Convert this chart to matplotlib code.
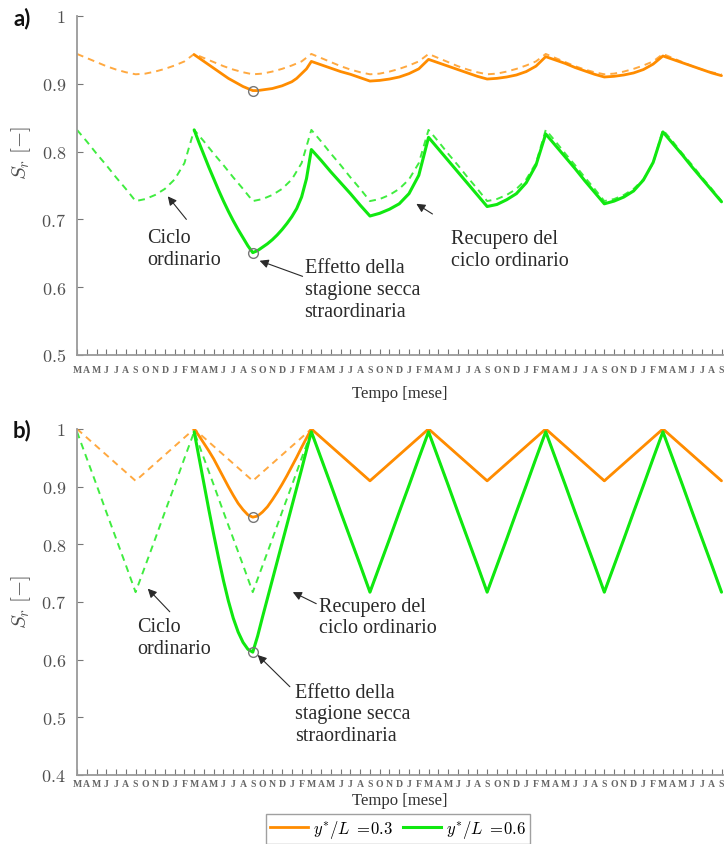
import matplotlib
matplotlib.use("Agg")
import matplotlib.pyplot as plt
from matplotlib.lines import Line2D

plt.rcParams["mathtext.fontset"] = "cm"
plt.rcParams["font.family"] = ["Liberation Serif", "DejaVu Serif"]

# ---- time axis: months from March of year 1 to September of year 6 ----
month_labels = (["M", "A", "M", "J", "J", "A", "S", "O", "N", "D", "J", "F"] * 5
                + ["M", "A", "M", "J", "J", "A", "S"])
months = list(range(len(month_labels)))          # 0 .. 66
# extraordinary year sampled every half month, then monthly
months_dry = [12 + 0.5 * i for i in range(25)] + list(range(25, 67))

# ---- panel a): ordinary cycle (dashed) ----
a_ord_03 = [0.944, 0.938, 0.932, 0.926, 0.921, 0.917, 0.914, 0.915, 0.918, 0.922, 0.927, 0.933,
            0.944, 0.938, 0.932, 0.926, 0.921, 0.917, 0.914, 0.915, 0.918, 0.922, 0.927, 0.933,
            0.944, 0.938, 0.932, 0.926, 0.921, 0.917, 0.914, 0.915, 0.918, 0.922, 0.927, 0.933,
            0.944, 0.938, 0.932, 0.926, 0.921, 0.917, 0.914, 0.915, 0.918, 0.922, 0.927, 0.933,
            0.944, 0.938, 0.932, 0.926, 0.921, 0.917, 0.914, 0.915, 0.918, 0.922, 0.927, 0.933,
            0.944, 0.938, 0.932, 0.926, 0.921, 0.917, 0.914]
a_ord_06 = [0.832, 0.815, 0.797, 0.780, 0.762, 0.745, 0.727, 0.730, 0.736, 0.745, 0.759, 0.783,
            0.832, 0.815, 0.797, 0.780, 0.762, 0.745, 0.727, 0.730, 0.736, 0.745, 0.759, 0.783,
            0.832, 0.815, 0.797, 0.780, 0.762, 0.745, 0.727, 0.730, 0.736, 0.745, 0.759, 0.783,
            0.832, 0.815, 0.797, 0.780, 0.762, 0.745, 0.727, 0.730, 0.736, 0.745, 0.759, 0.783,
            0.832, 0.815, 0.797, 0.780, 0.762, 0.745, 0.727, 0.730, 0.736, 0.745, 0.759, 0.783,
            0.832, 0.815, 0.797, 0.780, 0.762, 0.745, 0.727]

# ---- panel a): extraordinary dry season and recovery (solid) ----
a_dry_03 = [0.943, 0.938, 0.933, 0.928, 0.923, 0.918, 0.913, 0.908, 0.904, 0.900, 0.896, 0.893,
            0.890, 0.890, 0.891, 0.892, 0.893, 0.895, 0.897, 0.900, 0.903, 0.908, 0.915, 0.922,
            0.933,
            0.928, 0.923, 0.918, 0.914, 0.909, 0.904,
            0.905, 0.907, 0.910, 0.915, 0.922, 0.936,
            0.931, 0.926, 0.921, 0.916, 0.911, 0.907,
            0.908, 0.910, 0.913, 0.918, 0.926, 0.940,
            0.935, 0.930, 0.924, 0.919, 0.914, 0.910,
            0.911, 0.913, 0.916, 0.921, 0.929, 0.941,
            0.936, 0.931, 0.926, 0.921, 0.916, 0.912]
a_dry_06 = [0.832, 0.813, 0.795, 0.777, 0.760, 0.743, 0.727, 0.712, 0.698, 0.685, 0.673, 0.661,
            0.651, 0.654, 0.659, 0.664, 0.670, 0.677, 0.685, 0.694, 0.704, 0.716, 0.733, 0.760,
            0.803,
            0.787, 0.770, 0.754, 0.738, 0.721, 0.705,
            0.709, 0.715, 0.723, 0.738, 0.765, 0.821,
            0.804, 0.787, 0.770, 0.753, 0.736, 0.719,
            0.722, 0.729, 0.738, 0.754, 0.780, 0.826,
            0.809, 0.792, 0.775, 0.757, 0.740, 0.723,
            0.727, 0.733, 0.742, 0.758, 0.784, 0.829,
            0.812, 0.795, 0.777, 0.760, 0.743, 0.726]

# ---- panel b): ordinary cycle (dashed) ----
b_ord_03 = [1.000, 0.985, 0.970, 0.955, 0.940, 0.925, 0.910, 0.925, 0.940, 0.955, 0.970, 0.985,
            1.000, 0.985, 0.970, 0.955, 0.940, 0.925, 0.910, 0.925, 0.940, 0.955, 0.970, 0.985,
            1.000, 0.985, 0.970, 0.955, 0.940, 0.925, 0.910, 0.925, 0.940, 0.955, 0.970, 0.985,
            1.000, 0.985, 0.970, 0.955, 0.940, 0.925, 0.910, 0.925, 0.940, 0.955, 0.970, 0.985,
            1.000, 0.985, 0.970, 0.955, 0.940, 0.925, 0.910, 0.925, 0.940, 0.955, 0.970, 0.985,
            1.000, 0.985, 0.970, 0.955, 0.940, 0.925, 0.910]
b_ord_06 = [0.995, 0.949, 0.903, 0.856, 0.810, 0.764, 0.717, 0.763, 0.809, 0.856, 0.902, 0.949,
            0.995, 0.949, 0.903, 0.856, 0.810, 0.764, 0.717, 0.763, 0.809, 0.856, 0.902, 0.949,
            0.995, 0.949, 0.903, 0.856, 0.810, 0.764, 0.717, 0.763, 0.809, 0.856, 0.902, 0.949,
            0.995, 0.949, 0.903, 0.856, 0.810, 0.764, 0.717, 0.763, 0.809, 0.856, 0.902, 0.949,
            0.995, 0.949, 0.903, 0.856, 0.810, 0.764, 0.717, 0.763, 0.809, 0.856, 0.902, 0.949,
            0.995, 0.949, 0.903, 0.856, 0.810, 0.764, 0.717]

# ---- panel b): extraordinary dry season and recovery (solid) ----
b_dry_03 = [1.000, 0.988, 0.975, 0.962, 0.948, 0.932, 0.916, 0.900, 0.885, 0.871, 0.860, 0.851,
            0.847, 0.849, 0.856, 0.865, 0.877, 0.890, 0.904, 0.919, 0.935, 0.951, 0.968, 0.984,
            1.000,
            0.985, 0.970, 0.955, 0.940, 0.925, 0.910,
            0.925, 0.940, 0.955, 0.970, 0.985, 1.000,
            0.985, 0.970, 0.955, 0.940, 0.925, 0.910,
            0.925, 0.940, 0.955, 0.970, 0.985, 1.000,
            0.985, 0.970, 0.955, 0.940, 0.925, 0.910,
            0.925, 0.940, 0.955, 0.970, 0.985, 1.000,
            0.985, 0.970, 0.955, 0.940, 0.925, 0.910]
b_dry_06 = [0.995, 0.950, 0.905, 0.860, 0.817, 0.776, 0.737, 0.702, 0.672, 0.648, 0.630, 0.618,
            0.613, 0.641, 0.674, 0.706, 0.738, 0.770, 0.802, 0.834, 0.866, 0.898, 0.930, 0.963,
            0.995,
            0.949, 0.903, 0.856, 0.810, 0.764, 0.717,
            0.763, 0.809, 0.856, 0.902, 0.949, 0.995,
            0.949, 0.903, 0.856, 0.810, 0.764, 0.717,
            0.763, 0.809, 0.856, 0.902, 0.949, 0.995,
            0.949, 0.903, 0.856, 0.810, 0.764, 0.717,
            0.763, 0.809, 0.856, 0.902, 0.949, 0.995,
            0.949, 0.903, 0.856, 0.810, 0.764, 0.717]

yticks_a = [0.5, 0.6, 0.7, 0.8, 0.9, 1.0]
ylabels_a = ["0.5", "0.6", "0.7", "0.8", "0.9", "1"]
yticks_b = [0.4, 0.5, 0.6, 0.7, 0.8, 0.9, 1.0]
ylabels_b = ["0.4", "0.5", "0.6", "0.7", "0.8", "0.9", "1"]
series_labels = [r"$y^{*}/L\ =\!0.3$", r"$y^{*}/L\ =\!0.6$"]

ORANGE = "#FF8C00"
GREEN = "#10E810"
AXIS_GREY = "#9a9a9a"
TEXT_GREY = "#505050"

fig = plt.figure(figsize=(7.25, 8.45), dpi=100)
ax_a = fig.add_axes([0.1062, 0.5787, 0.891, 0.4012])
ax_b = fig.add_axes([0.1062, 0.0817, 0.891, 0.4095])


def style_axes(ax, yticks, ylabels, ylim, xpad, ylab_y, xlab_y):
    ax.set_xlim(0, 66.15)
    ax.set_ylim(*ylim)
    for side in ("top", "right"):
        ax.spines[side].set_visible(False)
    for side in ("left", "bottom"):
        ax.spines[side].set_color(AXIS_GREY)
        ax.spines[side].set_linewidth(1.3)
    ax.set_xticks(months)
    ax.set_xticklabels(month_labels, fontsize=7, fontweight="bold", color="#666666")
    ax.set_yticks(yticks)
    ax.set_yticklabels(["$" + s + "$" for s in ylabels], fontsize=13, color=TEXT_GREY)
    ax.tick_params(axis="x", direction="in", length=4, width=0.8, color="#777777", pad=xpad)
    ax.tick_params(axis="y", direction="in", length=4, width=0.8, color="#777777", pad=8)
    ax.set_ylabel(r"$S_r\ [-]$", fontsize=15, color=TEXT_GREY)
    ax.yaxis.set_label_coords(-0.0867, ylab_y)
    ax.yaxis.label.set_va("center")
    ax.set_xlabel("Tempo [mese]", fontsize=12, color="#333333")
    ax.xaxis.set_label_coords(0.5, xlab_y)
    ax.xaxis.label.set_va("center")


def draw_panel(ax, ord03, ord06, dry03, dry06):
    dash = dict(lw=1.4, ls=(0, (3.5, 2.6)))
    ax.plot(months, ord03, color=ORANGE, alpha=0.75, **dash)
    ax.plot(months, ord06, color=GREEN, alpha=0.8, **dash)
    ax.plot(months_dry, dry03, color=ORANGE, lw=2.0, solid_capstyle="round")
    ax.plot(months_dry, dry06, color=GREEN, lw=2.2, solid_capstyle="round")
    # open circles at the minimum reached during the extraordinary dry season
    for series in (dry03, dry06):
        first = series[:25]
        k = first.index(min(first))
        ax.plot(months_dry[k], first[k], "o", ms=7, mfc="none", mec="#777777", mew=1.0)


def note(ax, text, xy_text, head, tail):
    ax.text(*xy_text, text, ha="left", va="center", fontsize=14.5, color="#2a2a2a",
            linespacing=1.2)
    ax.annotate("", xy=head, xytext=tail,
                arrowprops=dict(arrowstyle="-|>", color="#2a2a2a", lw=0.8,
                                mutation_scale=13, shrinkA=0, shrinkB=0))


# panel a
draw_panel(ax_a, a_ord_03, a_ord_06, a_dry_03, a_dry_06)
style_axes(ax_a, yticks_a, ylabels_a, (0.5, 1.0), xpad=7, ylab_y=0.60, xlab_y=-0.112)
note(ax_a, "Ciclo\nordinario", (7.15, 0.657), (9.3, 0.734), (11.2, 0.700))
note(ax_a, "Effetto della\nstagione secca\nstraordinaria", (23.3, 0.597), (18.7, 0.639), (23.1, 0.616))
note(ax_a, "Recupero del\nciclo ordinario", (38.3, 0.656), (34.75, 0.723), (36.4, 0.708))

# panel b
draw_panel(ax_b, b_ord_03, b_ord_06, b_dry_03, b_dry_06)
style_axes(ax_b, yticks_b, ylabels_b, (0.4, 1.0), xpad=3, ylab_y=0.503, xlab_y=-0.072)
note(ax_b, "Ciclo\nordinario", (6.2, 0.639), (7.25, 0.723), (9.5, 0.683))
note(ax_b, "Recupero del\nciclo ordinario", (24.8, 0.674), (22.1, 0.717), (24.5, 0.697))
note(ax_b, "Effetto della\nstagione secca\nstraordinaria", (22.3, 0.506), (18.5, 0.608), (21.8, 0.553))

# panel tags
for tag, y in (("a)", 1 - 19 / 845), ("b)", 1 - 431 / 845)):
    fig.text(22 / 725, y, tag, fontsize=16, fontweight="bold", family="Lato",
             ha="center", va="center", color="#111111")

handles = [Line2D([], [], color=ORANGE, lw=2.0), Line2D([], [], color=GREEN, lw=2.2)]
leg = fig.legend(handles, series_labels, loc="center", bbox_to_anchor=(0.549, 0.0178),
                 ncol=2, fontsize=12, frameon=True, fancybox=False, handlelength=2.3,
                 handletextpad=0.3, columnspacing=0.6, borderpad=0.25)
leg.get_frame().set_edgecolor("#888888")
leg.get_frame().set_linewidth(1.0)

fig.savefig("out.png", dpi=100, facecolor="white")
